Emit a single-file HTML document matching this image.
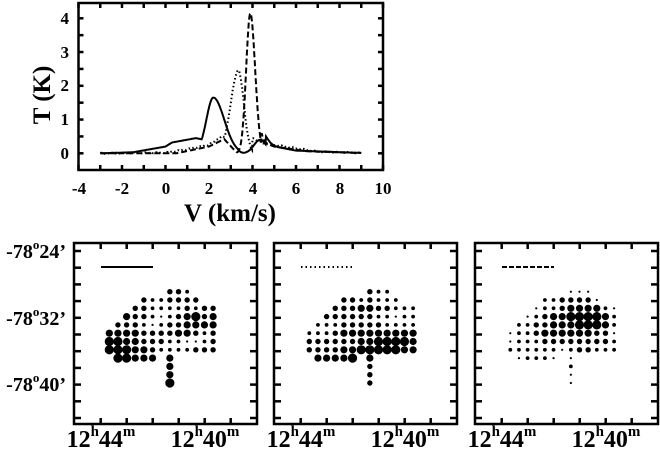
<!DOCTYPE html>
<html><head><meta charset="utf-8"><style>
html,body{margin:0;padding:0;background:#fff;}
svg{display:block;}
text{font-family:"Liberation Serif",serif;font-weight:bold;fill:#000;}
</style></head><body>
<svg id="s" width="660" height="450" viewBox="0 0 660 450" xmlns="http://www.w3.org/2000/svg">
<g id="tg" stroke="#000" fill="none"></g>
<g font-size="17" text-anchor="middle">
<text x="79" y="194">-4</text><text x="122" y="194">-2</text><text x="166" y="194">0</text>
<text x="209" y="194">2</text><text x="253" y="194">4</text><text x="296" y="194">6</text>
<text x="340" y="194">8</text><text x="383" y="194">10</text>
</g>
<g font-size="17" text-anchor="end">
<text x="69" y="159">0</text><text x="69" y="125">1</text><text x="69" y="91">2</text>
<text x="69" y="58">3</text><text x="69" y="24">4</text>
</g>
<text x="230" y="221" font-size="25" text-anchor="middle">V (km/s)</text>
<text transform="translate(50,95) rotate(-90)" font-size="25" text-anchor="middle">T (K)</text>
<g id="maps"></g>
</svg>
<script>
(function(){
var NS="http://www.w3.org/2000/svg";
function el(p,t,a){var e=document.createElementNS(NS,t);for(var k in a)e.setAttribute(k,a[k]);p.appendChild(e);return e;}
var tg=document.getElementById('tg');
var L=78.5,R=383,T=3,B=170;
el(tg,'rect',{x:L,y:T,width:R-L,height:B-T,'stroke-width':2.5});
function X(v){return L+(v+4)*21.75;}
function Y(t){return 153.3-t*33.75;}
for(var v=-4;v<=10;v++){var x=X(v);el(tg,'line',{x1:x,y1:B,x2:x,y2:B-5,'stroke-width':2.5});el(tg,'line',{x1:x,y1:T,x2:x,y2:T+5,'stroke-width':2.5});}
for(var t=0;t<=4.5;t+=0.5){var y=Y(t);if(y<T+1)continue;el(tg,'line',{x1:L,y1:y,x2:L+5,y2:y,'stroke-width':2.5});el(tg,'line',{x1:R,y1:y,x2:R-5,y2:y,'stroke-width':2.5});}
function g(v,m,s){return Math.exp(-0.5*(v-m)*(v-m)/(s*s));}
function lin(v,pts){if(v<=pts[0][0])return pts[0][1];for(var i=1;i<pts.length;i++){if(v<=pts[i][0]){var a=pts[i-1],b=pts[i];return a[1]+(b[1]-a[1])*(v-a[0])/(b[0]-a[0]);}}return pts[pts.length-1][1];}
function solid(v){
 var w=lin(v,[[-3,0],[-1.5,0.03],[0,0.2],[0.3,0.32],[1.4,0.45],[2.5,0.3],[3,0]]);
 var p=1.65*(v<2.2?g(v,2.2,0.32):g(v,2.2,0.5));
 var d=Math.max(0,1-Math.abs(v-3.65)/0.35);
 var b=0.4*g(v,4.35,0.28);
 var tail=lin(v,[[4.6,0.25],[6,0.08],[9,0.01]])*(v>4.6?1:0);
 return Math.max(0,Math.max(w,p)*(1-d)+b+tail);}
function dotted(v){var w=lin(v,[[-3,0],[0,0.02],[1,0.12],[2,0.25],[2.6,0.5]]);var p=2.45*(v<3.4?g(v,3.35,0.35):g(v,3.35,0.25));
 var tail=lin(v,[[4,0.45],[4.5,0.3],[5.5,0.2],[7,0.05],[9,0.01]])*(v>4?1:0);return Math.max(v<3.4?w:0,p,tail)+0.015*Math.sin(v*25);}
function dashed(v){var w=lin(v,[[-3,0],[0.5,0],[2,0.2],[2.7,0.42],[3.3,0]]);
 var p=4.15*(v<3.9?g(v,3.9,0.19):g(v,3.9,0.22));var tail=lin(v,[[4.4,0.35],[5,0.2],[6.5,0.06],[9,0.01]])*(v>4.4?1:0);
 return Math.max(0,(v<3.3?w:0)+p+tail);}
function path(f,da,sw){var d="";for(var v=-3;v<=9.001;v+=0.02){d+=(d?"L":"M")+X(v).toFixed(1)+","+Y(f(v)).toFixed(1);}
 var a={d:d,'stroke-width':sw};if(da)a['stroke-dasharray']=da;el(tg,'path',a);}
path(solid,null,2);path(dotted,"1.5,2.5",2);path(dashed,"6,3",2);

var maps=document.getElementById('maps');
var lefts=[74,274,475];
var rs=[0,1.1,1.9,2.7,3.6,4.6];
var data=[
[[7,"332"],[4,"3223333"],[3,"3322223233"],[2,"43321234534"],[1,"333212334444"],[0,"4444333344323"],[0,"5544333221123"],[0,"5554432222333"],[1,"55444"],[7,"4"],[7,"4"],[7,"4"],[7,"5"]],
[[7,"322"],[4,"3323222"],[3,"3334433222"],[2,"33333322122"],[1,"222333332222"],[0,"2223444444444"],[0,"3333334455554"],[0,"3333445555544"],[1,"44445"],[7,"4"],[7,"3"],[7,"3"],[7,"3"]],
[[7,"111"],[4,"2233331"],[3,"1223444421"],[2,"12344555542"],[1,"223344455542"],[0,"1223444444331"],[0,"1222333333332"],[0,"2222221233222"],[1,"12221"],[7,"1"],[7,"2"],[7,"1"],[7,"1"]]
];
var legend=[null,"1.5,3","5,2"];
for(var p=0;p<3;p++){
 var l=lefts[p],tp=243,bt=424,rt=l+183;
 var g1=el(maps,'g',{stroke:'#000',fill:'none'});
 el(g1,'rect',{x:l,y:tp,width:rt-l,height:bt-tp,'stroke-width':2.5});
 for(var k=1;k<=6;k++){var x=l+26.7+26*(k-1);if(x>rt-1)continue;el(g1,'line',{x1:x,y1:tp,x2:x,y2:tp+6,'stroke-width':2.5});el(g1,'line',{x1:x,y1:bt,x2:x,y2:bt-6,'stroke-width':2.5});}
 for(var k=0;k<11;k++){var y=251+16.7*k;el(g1,'line',{x1:l,y1:y,x2:l+7,y2:y,'stroke-width':2.5});el(g1,'line',{x1:rt,y1:y,x2:rt-7,y2:y,'stroke-width':2.5});}
 var la={x1:l+27,y1:267,x2:l+79,y2:267,'stroke-width':2};if(legend[p])la['stroke-dasharray']=legend[p];el(g1,'line',la);
 var d=data[p];
 for(var r=0;r<d.length;r++){var rr=r>=9?r-1:r;var yy=243+48.7+8.3*rr;var c0=d[r][0],s=d[r][1];
  for(var i=0;i<s.length;i++){var sz=+s[i];if(!sz)continue;el(maps,'circle',{cx:l+35.3+8.65*(c0+i),cy:yy,r:rs[sz],fill:'#000'});}}
 var t=el(maps,'text',{x:l+27,y:447,'font-size':24,'text-anchor':'middle'});t.innerHTML='12<tspan font-size="15" dy="-11">h</tspan><tspan dy="11">44</tspan><tspan font-size="15" dy="-11">m</tspan>';
 var t2=el(maps,'text',{x:l+131,y:447,'font-size':24,'text-anchor':'middle'});t2.innerHTML='12<tspan font-size="15" dy="-11">h</tspan><tspan dy="11">40</tspan><tspan font-size="15" dy="-11">m</tspan>';
}
var labs=[[251,"24"],[318,"32"],[384,"40"]];
for(var i=0;i<3;i++){var t=el(maps,'text',{x:66,y:labs[i][0]+7,'font-size':20,'text-anchor':'end'});t.innerHTML='-78<tspan font-size="13" dy="-9">o</tspan><tspan dy="9">'+labs[i][1]+'’</tspan>';}
})();
</script>
</body></html>
